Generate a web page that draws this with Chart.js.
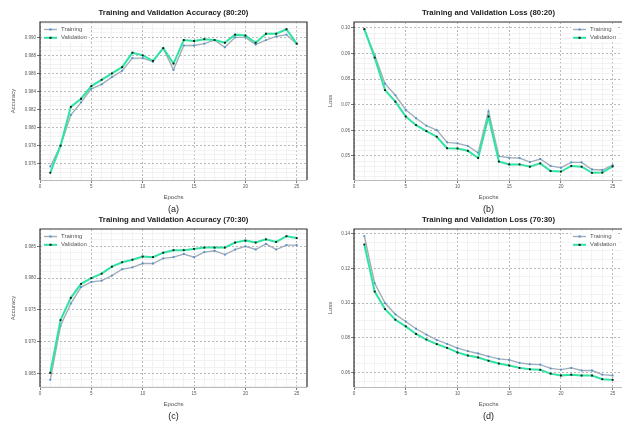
<!DOCTYPE html>
<html>
<head>
<meta charset="utf-8">
<script src="https://cdn.jsdelivr.net/npm/chart.js@4.4.0/dist/chart.umd.min.js"></script>
<style>
  html, body { margin: 0; padding: 0; background: #fff; overflow: hidden; }
  body { width: 622px; height: 426px; position: relative; }
  .panel { position: absolute; }
</style>
</head>
<body>
<div class="panel" style="left:0;top:0"><canvas id="chartA" width="311" height="226"></canvas></div>
<div class="panel" style="left:311px;top:0"><canvas id="chartB" width="316" height="226"></canvas></div>
<div class="panel" style="left:0;top:213px"><canvas id="chartC" width="311" height="213"></canvas></div>
<div class="panel" style="left:311px;top:213px"><canvas id="chartD" width="316" height="213"></canvas></div>
<script>
const epochs = [1, 2, 3, 4, 5, 6, 7, 8, 9, 10, 11, 12, 13, 14, 15, 16, 17, 18, 19, 20, 21, 22, 23, 24, 25];

// (a) accuracy 80:20
const trainAcc8020 = [0.9757, 0.9780, 0.9814, 0.9828, 0.9843, 0.9848, 0.9856, 0.9863, 0.9877, 0.9877, 0.9873, 0.9888, 0.9864,
  0.9891, 0.9891, 0.9893, 0.9897, 0.9889, 0.9900, 0.9900, 0.9892, 0.9897, 0.9901, 0.9903, 0.9893];
const valAcc8020 = [0.9750, 0.9780, 0.9823, 0.9832, 0.9846, 0.9853, 0.9860, 0.9867, 0.9883, 0.9880, 0.9874, 0.9888, 0.9871,
  0.9897, 0.9896, 0.9898, 0.9897, 0.9894, 0.9903, 0.9902, 0.9894, 0.9904, 0.9904, 0.9909, 0.9893];

// (b) loss 80:20
const trainLoss8020 = [0.0995, 0.0893, 0.0782, 0.0737, 0.0680, 0.0647, 0.0618, 0.0601, 0.0553, 0.0549, 0.0539, 0.0512, 0.0674,
  0.0499, 0.0493, 0.0492, 0.0476, 0.0488, 0.0461, 0.0454, 0.0475, 0.0475, 0.0447, 0.0445, 0.0464];
const valLoss8020 = [0.0995, 0.0884, 0.0757, 0.0712, 0.0654, 0.0620, 0.0597, 0.0575, 0.0530, 0.0529, 0.0520, 0.0492, 0.0654,
  0.0478, 0.0467, 0.0467, 0.0458, 0.0471, 0.0441, 0.0439, 0.0461, 0.0458, 0.0434, 0.0435, 0.0459];

// (c) accuracy 70:30
const trainAcc7030 = [0.9640, 0.9725, 0.9760, 0.9786, 0.9794, 0.9796, 0.9804, 0.9814, 0.9817, 0.9823, 0.9823, 0.9831, 0.9833,
  0.9838, 0.9833, 0.9841, 0.9843, 0.9837, 0.9845, 0.9850, 0.9845, 0.9854, 0.9845, 0.9852, 0.9852];
const valAcc7030 = [0.9651, 0.9734, 0.9769, 0.9791, 0.9800, 0.9807, 0.9818, 0.9825, 0.9829, 0.9834, 0.9833, 0.9840, 0.9844,
  0.9844, 0.9846, 0.9848, 0.9848, 0.9848, 0.9856, 0.9859, 0.9856, 0.9861, 0.9857, 0.9866, 0.9863];

// (d) loss 70:30
const trainLoss7030 = [0.1385, 0.1114, 0.1000, 0.0935, 0.0894, 0.0852, 0.0818, 0.0788, 0.0765, 0.0741, 0.0723, 0.0710, 0.0693,
  0.0679, 0.0673, 0.0656, 0.0648, 0.0646, 0.0624, 0.0617, 0.0627, 0.0612, 0.0612, 0.0588, 0.0583];
const valLoss7030 = [0.1337, 0.1066, 0.0965, 0.0904, 0.0866, 0.0822, 0.0790, 0.0764, 0.0742, 0.0716, 0.0698, 0.0687, 0.0668,
  0.0652, 0.0641, 0.0627, 0.0619, 0.0616, 0.0594, 0.0583, 0.0588, 0.0583, 0.0583, 0.0562, 0.0558];

// major tick labels
const xTicks = [0, 5, 10, 15, 20, 25];
const yTicksAcc8020 = [0.976, 0.978, 0.980, 0.982, 0.984, 0.986, 0.988, 0.990];
const yTicksLoss8020 = [0.05, 0.06, 0.07, 0.08, 0.09, 0.10];
const yTicksAcc7030 = [0.965, 0.970, 0.975, 0.980, 0.985];
const yTicksLoss7030 = [0.06, 0.08, 0.10, 0.12, 0.14];

const fontFam = '"Liberation Sans", Arial, Helvetica, sans-serif';
const trainLine = "#a3adb8";
const trainDot = "#4a8fd4";
const valLine = "#2fe3a3";
const valDot = "#111111";

const isMajor = (list, v) => list.some((t) => Math.abs(t - v) < 1e-9);

// ticks every minor step, majors get labels and dashed grid
const minorTicks = (min, max, step) => {
  const out = [];
  const start = Math.ceil(min / step - 1e-9);
  const end = Math.floor(max / step + 1e-9);
  for (let k = start; k <= end; k++) out.push({ value: +(k * step).toFixed(6) });
  return out;
};

const gridStyle = (list) => ({
  color: (c) => (c.tick && isMajor(list, c.tick.value) ? "#a8a8a8" : "#efefef"),
  lineWidth: 0.8,
  tickLength: 3,
  tickColor: (c) => (c.tick && isMajor(list, c.tick.value) ? "#555" : "rgba(0,0,0,0)"),
});

const borderStyle = (list) => ({
  display: false,
  dash: (c) => (c.tick && isMajor(list, c.tick.value) ? [2, 2] : []),
});

function buildChart(id, cfg) {
  const decor = {
    id: "panelDecor",
    afterDatasetsDraw(chart) {
      const { ctx, chartArea: a } = chart;
      ctx.save();
      ctx.lineWidth = 1;
      ctx.strokeStyle = "#bbbbbb";
      ctx.beginPath();
      ctx.moveTo(a.left, Math.round(a.bottom) + 0.5);
      ctx.lineTo(a.right, Math.round(a.bottom) + 0.5);
      ctx.stroke();
      ctx.strokeStyle = "#333333";
      ctx.lineWidth = 1.2;
      ctx.beginPath();
      ctx.moveTo(a.left, a.bottom);
      ctx.lineTo(a.left, a.top);
      ctx.lineTo(a.right, a.top);
      ctx.lineTo(a.right, a.bottom);
      ctx.stroke();
      ctx.restore();
    },
    afterDraw(chart) {
      const { ctx, chartArea: a } = chart;
      const cx = (a.left + a.right) / 2;
      ctx.save();
      // title and caption
      ctx.textAlign = "center";
      ctx.textBaseline = "middle";
      ctx.fillStyle = "#222";
      ctx.font = `bold 7.8px ${fontFam}`;
      ctx.fillText(cfg.title, cx, a.top - 9);
      ctx.font = `9px ${fontFam}`;
      ctx.fillText(cfg.caption, cx, a.bottom + 30);

      // legend
      ctx.font = `6px ${fontFam}`;
      const sets = chart.data.datasets;
      const tw = Math.max(...sets.map((d) => ctx.measureText(d.label).width));
      const lineW = 13;
      const gap = 4;
      const x0 = cfg.legend === "left" ? a.left + 4 : a.right - 7 - tw - gap - lineW;
      ctx.fillStyle = "rgba(255,255,255,0.9)";
      ctx.fillRect(x0 - 2, a.top + 3, lineW + gap + tw + 4, 17);
      sets.forEach((d, i) => {
        const y = a.top + 7.5 + i * 8.3;
        ctx.strokeStyle = d.borderColor;
        ctx.lineWidth = d.borderWidth;
        ctx.beginPath();
        ctx.moveTo(x0, y);
        ctx.lineTo(x0 + lineW, y);
        ctx.stroke();
        ctx.fillStyle = d.pointBackgroundColor;
        ctx.fillRect(x0 + lineW / 2 - 1, y - 1, 2, 2);
        ctx.fillStyle = "#555";
        ctx.textAlign = "left";
        ctx.fillText(d.label, x0 + lineW + gap, y);
      });
      ctx.restore();
    },
  };

  return new Chart(document.getElementById(id), {
    type: "line",
    data: {
      datasets: [
        {
          label: "Training",
          data: epochs.map((e, i) => ({ x: e, y: cfg.train[i] })),
          borderColor: trainLine,
          borderWidth: 1.4,
          pointStyle: "rect",
          pointRadius: 1.3,
          pointBorderWidth: 0,
          pointBackgroundColor: trainDot,
          tension: 0,
          order: 1,
        },
        {
          label: "Validation",
          data: epochs.map((e, i) => ({ x: e, y: cfg.val[i] })),
          borderColor: valLine,
          borderWidth: 2,
          pointStyle: "rect",
          pointRadius: 1.3,
          pointBorderWidth: 0,
          pointBackgroundColor: valDot,
          tension: 0,
          order: 0,
        },
      ],
    },
    options: {
      responsive: false,
      animation: false,
      events: [],
      layout: { padding: cfg.pad },
      plugins: {
        legend: { display: false },
        tooltip: { enabled: false },
      },
      scales: {
        x: {
          type: "linear",
          min: 0,
          max: 26,
          afterBuildTicks: (s) => { s.ticks = minorTicks(s.min, s.max, 1); },
          afterFit: (s) => { s.height = 24; },
          ticks: {
            autoSkip: false,
            maxRotation: 0,
            padding: 1,
            color: "#555",
            font: { size: 4.5, family: fontFam },
            callback: (v) => (isMajor(xTicks, v) ? String(v) : ""),
          },
          grid: gridStyle(xTicks),
          border: borderStyle(xTicks),
          title: {
            display: true,
            text: "Epochs",
            color: "#555",
            font: { size: 6, family: fontFam },
            padding: { top: 0, bottom: 3.4 },
          },
        },
        y: {
          type: "linear",
          min: cfg.yMin,
          max: cfg.yMax,
          afterBuildTicks: (s) => { s.ticks = minorTicks(s.min, s.max, cfg.yMinor); },
          afterFit: (s) => { s.width = cfg.yWidth; },
          ticks: {
            autoSkip: false,
            padding: 1,
            color: "#555",
            font: { size: 4.5, family: fontFam },
            callback: (v) => (isMajor(cfg.yTicks, v) ? v.toFixed(cfg.digits) : ""),
          },
          grid: gridStyle(cfg.yTicks),
          border: borderStyle(cfg.yTicks),
          title: {
            display: true,
            text: cfg.yLabel,
            color: "#555",
            font: { size: 6, family: fontFam },
            padding: { top: cfg.yTitlePad, bottom: 0 },
          },
        },
      },
    },
    plugins: [decor],
  });
}

buildChart("chartA", {
  title: "Training and Validation Accuracy (80:20)", caption: "(a)", yLabel: "Accuracy",
  train: trainAcc8020, val: valAcc8020, yTicks: yTicksAcc8020, digits: 3,
  yMin: 0.9742, yMax: 0.9917, yMinor: 0.0005, yWidth: 40, yTitlePad: 9.4,
  pad: { left: 0, top: 22, right: 2, bottom: 22 }, legend: "left",
});
buildChart("chartB", {
  title: "Training and Validation Loss (80:20)", caption: "(b)", yLabel: "Loss",
  train: trainLoss8020, val: valLoss8020, yTicks: yTicksLoss8020, digits: 2,
  yMin: 0.0406, yMax: 0.1023, yMinor: 0.002, yWidth: 43, yTitlePad: 15.7,
  pad: { left: 0, top: 22, right: 1, bottom: 22 }, legend: "right",
});
buildChart("chartC", {
  title: "Training and Validation Accuracy (70:30)", caption: "(c)", yLabel: "Accuracy",
  train: trainAcc7030, val: valAcc7030, yTicks: yTicksAcc7030, digits: 3,
  yMin: 0.96287, yMax: 0.98773, yMinor: 0.001, yWidth: 40, yTitlePad: 9.4,
  pad: { left: 0, top: 16, right: 2, bottom: 15 }, legend: "left",
});
buildChart("chartD", {
  title: "Training and Validation Loss (70:30)", caption: "(d)", yLabel: "Loss",
  train: trainLoss7030, val: valLoss7030, yTicks: yTicksLoss7030, digits: 2,
  yMin: 0.0517, yMax: 0.1426, yMinor: 0.005, yWidth: 43, yTitlePad: 15.7,
  pad: { left: 0, top: 16, right: 1, bottom: 15 }, legend: "right",
});
</script>
</body>
</html>
